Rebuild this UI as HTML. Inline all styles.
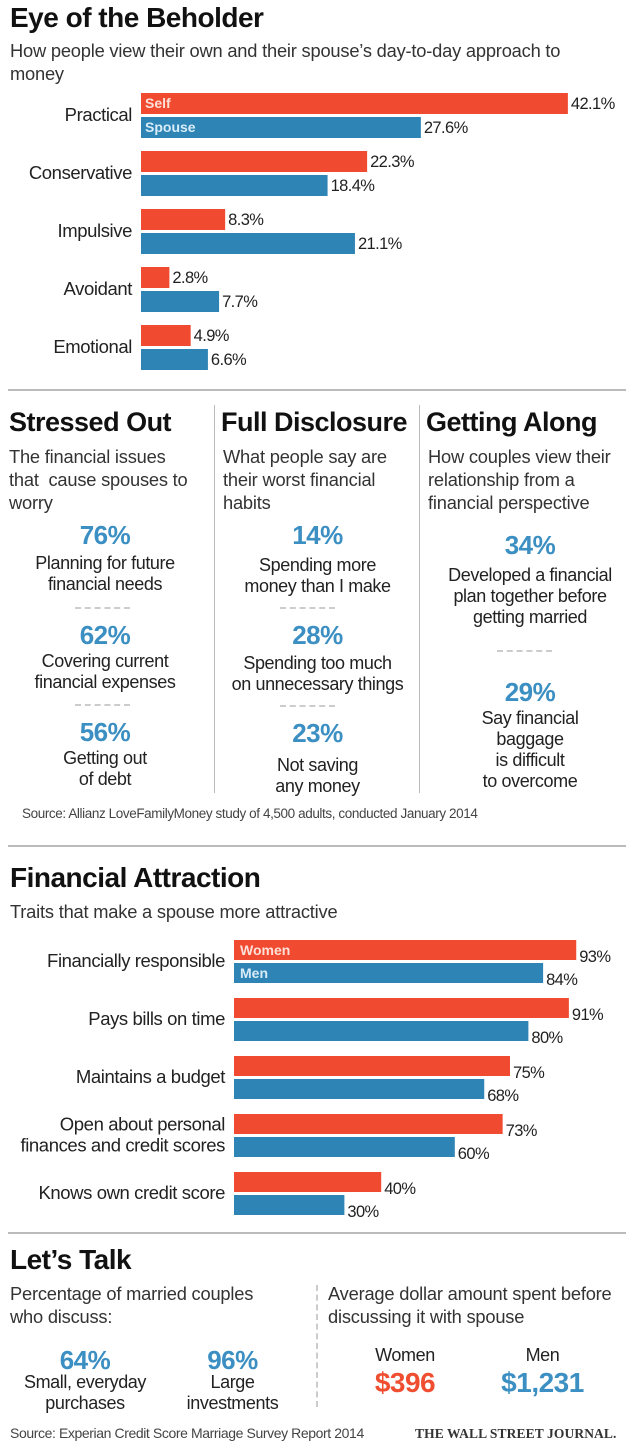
<!DOCTYPE html>
<html><head><meta charset="utf-8">
<style>
*{margin:0;padding:0;box-sizing:border-box}
body{width:640px;height:1452px;background:#fff;position:relative;overflow:hidden;font-family:"Liberation Sans",sans-serif;color:#222}
.a{position:absolute;white-space:nowrap}
h1,h2{position:absolute;font-weight:bold;color:#111;white-space:nowrap;letter-spacing:-0.5px}
h1{font-size:28px}
h2{font-size:27px}
.sub{font-size:18.3px;color:#333;line-height:23px;letter-spacing:-0.2px}
.big{font-weight:bold;color:#3b8fc2;font-size:26px;text-align:center;letter-spacing:-0.5px}
.desc{font-size:18px;color:#222;text-align:center;line-height:21px;letter-spacing:-0.4px}
.dash{position:absolute;border-top:2px dashed #ccc;width:55px}
.hr{position:absolute;left:8px;width:618px;height:2px;background:#bbb}
.vr{position:absolute;width:1px;background:#bbb}
svg text{font-family:"Liberation Sans",sans-serif}
</style></head><body>
<h1 class="a" style="left:10px;top:2px">Eye of the Beholder</h1>
<div class="a sub" style="left:10px;top:39px">How people view their own and their spouse’s day-to-day approach to<br>money</div>
<svg class="a" id="c1" style="left:0;top:85px" width="640" height="295"></svg>
<div class="hr" style="top:389px"></div>

<div class="vr" style="left:214px;top:405px;height:388px"></div>
<div class="vr" style="left:419px;top:405px;height:388px"></div>

<h2 class="a" style="left:9px;top:407px">Stressed Out</h2>
<div class="a sub" style="left:9px;top:445px">The financial issues<br>that &nbsp;cause spouses to<br>worry</div>
<div class="a big" style="left:0;width:210px;top:520px">76%</div>
<div class="a desc" style="left:0;width:210px;top:553px">Planning for future<br>financial needs</div>
<div class="dash" style="left:75px;top:607px"></div>
<div class="a big" style="left:0;width:210px;top:620px">62%</div>
<div class="a desc" style="left:0;width:210px;top:651px">Covering current<br>financial expenses</div>
<div class="dash" style="left:75px;top:704px"></div>
<div class="a big" style="left:0;width:210px;top:717px">56%</div>
<div class="a desc" style="left:0;width:210px;top:748px">Getting out<br>of debt</div>

<h2 class="a" style="left:221px;top:407px">Full Disclosure</h2>
<div class="a sub" style="left:223px;top:445px">What people say are<br>their worst financial<br>habits</div>
<div class="a big" style="left:215px;width:205px;top:520px">14%</div>
<div class="a desc" style="left:215px;width:205px;top:555px">Spending more<br>money than I make</div>
<div class="dash" style="left:280px;top:607px"></div>
<div class="a big" style="left:215px;width:205px;top:620px">28%</div>
<div class="a desc" style="left:215px;width:205px;top:653px">Spending too much<br>on unnecessary things</div>
<div class="dash" style="left:280px;top:705px"></div>
<div class="a big" style="left:215px;width:205px;top:718px">23%</div>
<div class="a desc" style="left:215px;width:205px;top:755px">Not saving<br>any money</div>

<h2 class="a" style="left:426px;top:407px">Getting Along</h2>
<div class="a sub" style="left:428px;top:445px">How couples view their<br>relationship from a<br>financial perspective</div>
<div class="a big" style="left:430px;width:200px;top:530px">34%</div>
<div class="a desc" style="left:430px;width:200px;top:565px">Developed a financial<br>plan together before<br>getting married</div>
<div class="dash" style="left:497px;top:650px"></div>
<div class="a big" style="left:430px;width:200px;top:677px">29%</div>
<div class="a desc" style="left:430px;width:200px;top:708px">Say financial<br>baggage<br>is difficult<br>to overcome</div>

<div class="a" style="left:22px;top:806px;font-size:13.5px;color:#444;letter-spacing:-0.4px">Source: Allianz LoveFamilyMoney study of 4,500 adults, conducted January 2014</div>
<div class="hr" style="top:845px"></div>

<h1 class="a" style="left:10px;top:862px">Financial Attraction</h1>
<div class="a sub" style="left:10px;top:900px">Traits that make a spouse more attractive</div>
<svg class="a" id="c2" style="left:0;top:930px" width="640" height="295"></svg>
<div class="hr" style="top:1232px"></div>

<h1 class="a" style="left:10px;top:1244px">Let’s Talk</h1>
<div class="a sub" style="left:10px;top:1282px">Percentage of married couples<br>who discuss:</div>
<div class="a big" style="left:20px;width:130px;top:1345px">64%</div>
<div class="a desc" style="left:15px;width:140px;top:1372px">Small, everyday<br>purchases</div>
<div class="a big" style="left:170px;width:125px;top:1345px">96%</div>
<div class="a desc" style="left:170px;width:125px;top:1372px">Large<br>investments</div>
<div class="a" style="left:316px;top:1285px;height:122px;border-left:2px dashed #ccc"></div>
<div class="a sub" style="left:328px;top:1282px">Average dollar amount spent before<br>discussing it with spouse</div>
<div class="a desc" style="left:350px;width:110px;top:1345px;font-size:18px">Women</div>
<div class="a big" style="left:350px;width:110px;top:1367px;color:#ef4e30;font-size:28px">$396</div>
<div class="a desc" style="left:480px;width:125px;top:1345px;font-size:18px">Men</div>
<div class="a big" style="left:480px;width:125px;top:1367px;font-size:28px">$1,231</div>
<div class="a" style="left:10px;top:1425px;font-size:14px;color:#444;letter-spacing:-0.4px">Source: Experian Credit Score Marriage Survey Report 2014</div>
<div class="a" style="left:415px;top:1426px;font-family:'Liberation Serif',serif;font-weight:bold;font-size:13.5px;color:#333;letter-spacing:0.1px">THE WALL STREET JOURNAL.</div>

<script>
const c1Categories = ["Practical","Conservative","Impulsive","Avoidant","Emotional"];
const c1Self = [42.1,22.3,8.3,2.8,4.9];
const c1Spouse = [27.6,18.4,21.1,7.7,6.6];
const c1Labels = ["42.1%","22.3%","8.3%","2.8%","4.9%"];
const c1SpouseLabels = ["27.6%","18.4%","21.1%","7.7%","6.6%"];

const c2Categories = [["Financially responsible"],["Pays bills on time"],["Maintains a budget"],["Open about personal","finances and credit scores"],["Knows own credit score"]];
const c2Women = [93,91,75,73,40];
const c2Men = [84,80,68,60,30];

const NS="http://www.w3.org/2000/svg";
function mk(svg,tag,attrs,txt){const e=document.createElementNS(NS,tag);for(const k in attrs)e.setAttribute(k,attrs[k]);if(txt!==undefined)e.textContent=txt;svg.appendChild(e);return e;}

(function(){
  const svg=document.getElementById('c1');
  const x0=141, k=10.14, y0=8, step=58, bh=21, gap=3;
  const x=v=>x0+v*k;
  c1Categories.forEach((c,i)=>{
    const ys=y0+i*step, yp=ys+bh+gap;
    const t=mk(svg,'text',{x:132,y:ys+bh+7,'text-anchor':'end','font-size':18.5,fill:'#222','letter-spacing':'-0.4'},c);
    
    
    const r1=mk(svg,'rect',{x:x0,y:ys,width:x(c1Self[i])-x0,height:bh,fill:'#f04b30'});
    
    
    const r2=mk(svg,'rect',{x:x0,y:yp,width:x(c1Spouse[i])-x0,height:bh,fill:'#2f84b6'});
    
    
    mk(svg,'text',{x:x(c1Self[i])+3,y:ys+16,'font-size':16.5,fill:'#222','letter-spacing':'-0.6'},c1Labels[i]);
    mk(svg,'text',{x:x(c1Spouse[i])+3,y:yp+16,'font-size':16.5,fill:'#222','letter-spacing':'-0.6'},c1SpouseLabels[i]);
    if(i===0){
      const l1=mk(svg,'text',{x:x0+4,y:ys+15,'font-size':14,'font-weight':'bold',fill:'#fde0d8'},'Self');
      
      
      const l2=mk(svg,'text',{x:x0+4,y:yp+15,'font-size':14,'font-weight':'bold',fill:'#d8ecf8'},'Spouse');
      
      
    }
  });
})();

(function(){
  const svg=document.getElementById('c2');
  const x0=234, k=3.68, y0=10, step=58, bh=20, gap=3;
  const x=v=>x0+v*k;
  c2Categories.forEach((c,i)=>{
    const ys=y0+i*step, yp=ys+bh+gap;
    const n=c.length;
    c.forEach((line,j)=>{
      const t=mk(svg,'text',{x:225,y:ys+bh+7+(j-(n-1)/2)*21,'text-anchor':'end','font-size':18.5,fill:'#222','letter-spacing':'-0.4'},line);
      
      
    });
    const r1=mk(svg,'rect',{x:x0,y:ys,width:x(c2Women[i])-x0,height:bh,fill:'#f04b30'});
    
    
    const r2=mk(svg,'rect',{x:x0,y:yp,width:x(c2Men[i])-x0,height:bh,fill:'#2f84b6'});
    
    
    mk(svg,'text',{x:x(c2Women[i])+3,y:ys+bh+2,'font-size':16.5,fill:'#222','letter-spacing':'-0.6'},c2Women[i]+'%');
    mk(svg,'text',{x:x(c2Men[i])+3,y:yp+bh+2,'font-size':16.5,fill:'#222','letter-spacing':'-0.6'},c2Men[i]+'%');
    if(i===0){
      const l1=mk(svg,'text',{x:x0+6,y:ys+15,'font-size':14,'font-weight':'bold',fill:'#fde0d8'},'Women');
      
      
      const l2=mk(svg,'text',{x:x0+6,y:yp+15,'font-size':14,'font-weight':'bold',fill:'#d8ecf8'},'Men');
      
      
    }
  });
})();
</script>
</body></html>
